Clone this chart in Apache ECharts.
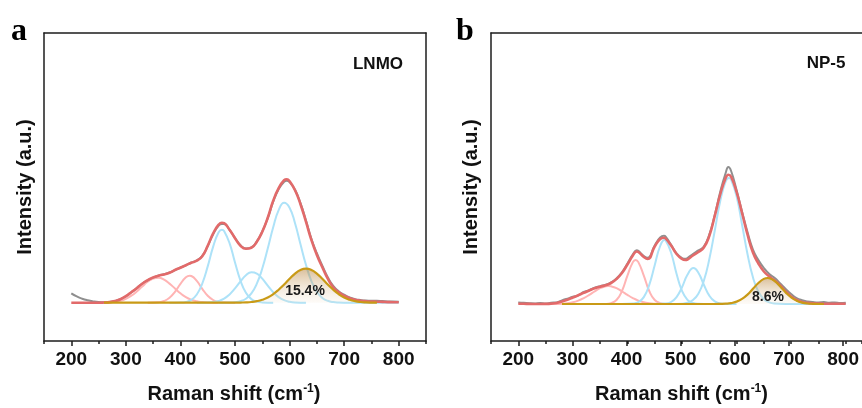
<!DOCTYPE html>
<html>
<head>
<meta charset="utf-8">
<script src="https://cdn.jsdelivr.net/npm/echarts@6/dist/echarts.min.js"></script>
<style>
html,body{margin:0;padding:0;background:#fff;}
#c{width:862px;height:408px;}
</style>
</head>
<body>
<div id="c"></div>
<script>
// ---------------- DATA (Raman shift cm^-1, intensity a.u.) ----------------
const sampleNames = ['LNMO', 'NP-5'];
const panelLetters = ['a', 'b'];
const peakShares = ['15.4%', '8.6%'];

// Panel a : LNMO
const lnmoRaw = [[200,9.4],[210,6.3],[220,4],[230,2.4],[240,1.3],[250,0.6],[260,0.4],[270,0.7],[280,1.8],[290,3.6],[300,6.4],[310,10.3],[320,14.6],[330,19.2],[340,22.3],[350,25],[360,27.2],[370,28.5],[380,30.2],[390,32.5],[400,35.2],[410,37.3],[420,40.2],[430,42.3],[440,46.8],[450,56.5],[460,68.5],[470,77],[476,78.8],[480,78.8],[490,72.8],[500,64.8],[510,57.5],[520,54.3],[530,55.3],[540,61.3],[550,71.3],[560,84.5],[570,101],[580,113.5],[590,121],[595,122],[600,120.5],[610,113],[620,99.5],[630,82.5],[640,64],[650,49.5],[660,37],[670,25.5],[680,16.8],[690,11.5],[700,8],[710,5.3],[720,3.6],[730,2.7],[740,2.1],[750,1.9],[760,2],[770,1.6],[780,1.3],[790,1.1],[800,0.9]];
const lnmoFit = [[200,0],[210,0],[220,0],[230,0],[240,0],[250,0],[260,0.2],[270,0.6],[280,1.7],[290,3.5],[300,6.5],[310,10.5],[320,14.5],[330,19],[340,22.5],[350,25.3],[360,27],[370,28.3],[380,30],[390,32.7],[400,35],[410,37.5],[420,40],[430,42],[440,46.5],[450,57],[460,69.4],[470,78],[476,80],[480,79.5],[490,73],[500,64.5],[510,57],[520,54],[530,55],[540,61],[550,71],[560,85],[570,102],[580,114.5],[590,122.5],[595,123.5],[600,121.5],[610,112.5],[620,98.5],[630,81],[640,62.7],[650,47.7],[660,35.5],[670,24],[680,15.5],[690,10.3],[700,7],[710,4.6],[720,3],[730,2],[740,1.5],[750,1.2],[760,1],[770,0.8],[780,0.6],[790,0.5],[800,0.5]];
const lnmoPink1 = [[250,0],[270,0.3],[280,0.9],[290,1.9],[300,3.9],[310,7],[320,11.2],[330,16.2],[340,20.9],[350,24.1],[360,25],[370,23.1],[380,19.1],[390,14.2],[400,9.4],[410,5.6],[420,3],[430,1.4],[440,0.6],[450,0.2],[470,0]];
const lnmoPink2 = [[340,0],[360,0.5],[370,1.7],[380,4.9],[390,10.9],[400,18.8],[410,25.4],[417,27],[420,26.7],[430,21.9],[440,13.9],[450,6.9],[460,2.7],[470,0.8],[480,0.2],[500,0]];
const lnmoBlue1 = [[380,0],[400,0.2],[410,0.8],[420,2.9],[430,8.2],[440,19.1],[450,36.3],[460,56.1],[470,70.4],[476,73],[480,71.8],[490,59.6],[500,40.2],[510,22.1],[520,9.9],[530,3.6],[540,1.1],[550,0.3],[570,0]];
const lnmoBlue2 = [[430,0],[450,0.2],[460,0.7],[470,1.8],[480,4.1],[490,8.3],[500,14.3],[510,21.3],[520,27.4],[530,30.4],[540,29.1],[550,24],[560,17.1],[570,10.5],[580,5.6],[590,2.5],[600,1],[610,0.3],[630,0]];
const lnmoBlue3 = [[470,0],[490,0.15],[500,0.5],[510,1.5],[520,4],[530,9.3],[540,19],[550,34.2],[560,54.2],[570,75.5],[580,92.6],[590,100],[600,95],[610,79.4],[620,58.5],[630,37.9],[640,21.6],[650,10.9],[660,4.8],[670,1.9],[680,0.6],[690,0.2],[710,0],[800,0]];
const lnmoGold = [[260,0],[500,0],[510,0.13],[520,0.3],[530,0.7],[540,1.5],[550,2.9],[560,5.1],[570,8.5],[580,13],[590,18.3],[600,24],[610,29.1],[620,32.7],[630,34],[640,32.7],[650,29.1],[660,24],[670,18.3],[680,13],[690,8.5],[700,5.1],[710,2.9],[720,1.5],[730,0.7],[740,0.3],[750,0.1],[760,0]];

// Panel b : NP-5
const np5Raw = [[200,1.5],[210,1.2],[220,0.8],[230,0.5],[240,1],[250,0.5],[260,1.3],[270,1.6],[280,3.6],[290,5.4],[300,7.2],[310,8.6],[320,12],[330,13.8],[340,16.2],[350,17.9],[360,19.2],[370,21.6],[380,25.6],[390,31.6],[400,40.4],[410,49.6],[417,53.8],[420,53.2],[430,48],[437,46.2],[450,58.5],[460,66.5],[467,68.2],[470,67.5],[480,59.2],[490,50.6],[500,46],[506,45.2],[510,46],[520,50],[530,53.6],[540,57.4],[550,69.5],[560,89],[570,112],[580,131],[585,137],[590,133],[600,114],[610,92.5],[620,72],[630,54.5],[640,44],[650,36],[660,30],[670,26],[680,20.5],[690,15],[700,10],[710,6],[720,3.8],[730,2.6],[740,1.9],[750,1.6],[760,1.9],[770,1.3],[780,1.5],[790,1],[800,1.2]];
const np5Fit = [[200,0.3],[210,0.2],[220,0.1],[230,0],[240,0],[250,0.1],[260,0.4],[270,1],[280,2.5],[290,4.3],[300,6.5],[310,8.8],[320,11.2],[330,13.5],[340,15.8],[350,17.3],[360,18.8],[370,21],[380,25],[390,31],[400,39.5],[410,48.5],[417,52.5],[420,52],[430,47],[437,45],[450,57.5],[460,65],[467,66.3],[470,65.5],[480,58.5],[490,50],[500,45],[506,44],[510,44.5],[520,48.5],[530,52],[540,56.5],[550,68],[560,88],[570,109.5],[580,126],[585,129.3],[590,127.3],[600,112],[610,91],[620,69.5],[630,51.5],[640,40.5],[650,32.5],[660,27.5],[670,23.5],[680,18.5],[690,12.5],[700,7.5],[710,4],[720,2],[730,1.1],[740,0.6],[750,0.4],[760,0.3],[770,0.3],[780,0.3],[790,0.3],[800,0.3]];
const np5Pink1 = [[250,0],[270,0.1],[280,0.3],[290,0.8],[300,1.7],[310,3.4],[320,5.9],[330,9.1],[340,12.7],[350,15.9],[360,17.7],[365,18],[370,17.7],[380,15.9],[390,12.7],[400,9.1],[410,5.9],[420,3.4],[430,1.7],[440,0.8],[450,0.3],[460,0.1],[480,0]];
const np5Pink2 = [[340,0],[360,0.1],[370,0.9],[380,4],[390,13],[400,28.4],[410,41.9],[415,44],[420,41.9],[430,28.4],[440,13],[450,4],[460,0.9],[470,0.1],[490,0]];
const np5Blue1 = [[390,0],[410,0.4],[420,1.8],[430,6.9],[440,19.1],[450,38.8],[460,58],[468,64],[470,63.6],[480,51.3],[490,30.3],[500,13.2],[510,4.2],[520,1],[530,0.2],[550,0]];
const np5Blue2 = [[450,0],[470,0.4],[480,2],[490,6.9],[500,16.8],[510,29.2],[521,36],[530,31.3],[540,19.3],[550,8.4],[560,2.6],[570,0.6],[580,0.1],[600,0]];
const np5Blue3 = [[480,0],[500,0.3],[510,1.2],[520,3.9],[530,10.3],[540,23.2],[550,44.7],[560,73.3],[570,102.7],[580,122.5],[586,126],[590,124.4],[600,107.7],[610,79.5],[620,50],[630,26.7],[640,12.2],[650,4.8],[660,1.6],[670,0.4],[690,0],[800,0]];
const np5Gold = [[280,0],[560,0],[570,0.1],[580,0.3],[590,0.9],[600,2.4],[610,5.1],[620,9.4],[630,15.2],[640,21],[650,25.1],[657,26],[660,25.8],[670,22.9],[680,17.6],[690,11.6],[700,6.6],[710,3.3],[720,1.4],[730,0.5],[740,0.2],[760,0]];

// ---------------- STYLE ----------------
const SANS = 'Liberation Sans, Arial, sans-serif';
const C = {
  raw: '#8f8f8f', fit: '#e26a6a', pink: '#ffb4b4', blue: '#ade2f8', gold: '#c99a16', axis: '#1c1c1c'
};
const TOP = 33, H = 308, W = 382, XMIN = 150, XMAX = 850;
const pxPerUnit = W / (XMAX - XMIN);
const CHART_W = 862;
const panels = [
  {left: 44, yMin: -38.3, yMax: 269.7,
   comps: [lnmoPink1, lnmoPink2], blues: [lnmoBlue1, lnmoBlue2, lnmoBlue3], raw: lnmoRaw, fit: lnmoFit, gold: lnmoGold},
  {left: 491, yMin: -37, yMax: 271,
   comps: [np5Pink1, np5Pink2], blues: [np5Blue1, np5Blue2, np5Blue3], raw: np5Raw, fit: np5Fit, gold: np5Gold}
];
panels.forEach(p => {
  // the second panel's frame runs past the right edge of the picture: clip it at the edge
  p.width = Math.min(W, CHART_W - p.left);
  p.xMax = XMIN + p.width / pxPerUnit;
  p.fullFrame = p.width === W;
});

const axisLineStyle = {color: C.axis, width: 1.5};
const grid = [], xAxis = [], yAxis = [], series = [];
panels.forEach((p, i) => {
  grid.push({left: p.left, top: TOP, width: p.width, height: H, show: false});
  xAxis.push({gridIndex: i, type: 'value', min: XMIN, max: p.xMax, interval: 50, position: 'bottom',
    axisLine: {show: true, onZero: false, lineStyle: axisLineStyle},
    axisTick: {show: true, inside: false, length: 3, lineStyle: axisLineStyle},
    axisLabel: {show: false}, splitLine: {show: false}});
  yAxis.push({gridIndex: i, type: 'value', min: p.yMin, max: p.yMax, position: 'left',
    axisLine: {show: true, onZero: false, lineStyle: axisLineStyle}, axisTick: {show: false}, axisLabel: {show: false}, splitLine: {show: false}});
});
// frame lines: top (both panels) and right (only when inside the picture)
panels.forEach((p, i) => {
  xAxis.push({gridIndex: i, type: 'value', min: XMIN, max: p.xMax, position: 'top',
    axisLine: {show: true, onZero: false, lineStyle: axisLineStyle}, axisTick: {show: false}, axisLabel: {show: false}, splitLine: {show: false}});
  if (p.fullFrame) {
    yAxis.push({gridIndex: i, type: 'value', min: p.yMin, max: p.yMax, position: 'right',
      axisLine: {show: true, onZero: false, lineStyle: axisLineStyle}, axisTick: {show: false}, axisLabel: {show: false}, splitLine: {show: false}});
  }
});
// helper grids for the major ticks + labels (200..800)
panels.forEach((p, i) => {
  const gi = grid.length;
  grid.push({left: p.left + (200 - XMIN) * pxPerUnit, top: TOP, width: 600 * pxPerUnit, height: H, show: false});
  xAxis.push({gridIndex: gi, type: 'value', min: 200, max: 800, interval: 100,
    axisLine: {show: false, onZero: false},
    axisTick: {show: true, inside: false, length: 5, lineStyle: axisLineStyle},
    axisLabel: {show: true, margin: 9, color: '#111', fontFamily: SANS, fontWeight: 'bold', fontSize: 19},
    splitLine: {show: false}});
  yAxis.push({gridIndex: gi, type: 'value', show: false, min: 0, max: 1});
});

function line(i, data, color, width, z, extra) {
  return Object.assign({type: 'line', xAxisIndex: i, yAxisIndex: i, data: data, smooth: 0.5,
    symbol: 'none', z: z, silent: true, animation: false,
    lineStyle: {color: color, width: width}}, extra || {});
}
panels.forEach((p, i) => {
  p.comps.forEach(d => series.push(line(i, d, C.pink, 2, 2)));
  p.blues.forEach(d => series.push(line(i, d, C.blue, 2, 2)));
  series.push(line(i, p.raw, C.raw, 2, 3));
  series.push(line(i, p.fit, C.fit, 2.6, 4));
  series.push(line(i, p.gold, C.gold, 2.2, 5, {
    areaStyle: {origin: 0, color: {type: 'linear', x: 0, y: 0, x2: 0, y2: 1,
      colorStops: [{offset: 0, color: 'rgba(180,128,55,0.72)'}, {offset: 1, color: 'rgba(245,230,210,0.25)'}]}}
  }));
});

// text annotations
function txt(t, x, y, font, fill) {
  return {type: 'text', z: 100, silent: true,
    style: {text: t, x: x, y: y, font: font, fill: fill || '#111',
      textAlign: 'center', align: 'center', textVerticalAlign: 'middle', verticalAlign: 'middle'}};
}
const graphic = [];
const letterX = [19, 465];
const nameX = [378, 826], nameY = [64, 63];
const shareX = [305, 768], shareY = [291.5, 297.2];
const yTitleX = [25, 471.5];
const xTitleX = [234, 681.5];
panels.forEach((p, i) => {
  graphic.push(txt(panelLetters[i], letterX[i], 31.8, 'bold 32px "Liberation Serif", "Times New Roman", serif', '#000'));
  graphic.push(txt(sampleNames[i], nameX[i], nameY[i], 'bold 17px ' + SANS));
  graphic.push(txt(peakShares[i], shareX[i], shareY[i], 'bold 14px ' + SANS, '#1a1a1a'));
  graphic.push({type: 'text', z: 100, silent: true, rotation: Math.PI / 2, x: yTitleX[i], y: 187,
    style: {text: 'Intensity (a.u.)', x: 0, y: 0, font: 'bold 20px ' + SANS, fill: '#111',
      textAlign: 'center', align: 'center', textVerticalAlign: 'middle', verticalAlign: 'middle'}});
  graphic.push({type: 'text', z: 100, silent: true, x: xTitleX[i], y: 394,
    style: {text: '{m|Raman shift (cm}{s|-1}{m|)}', x: 0, y: 0, fill: '#111',
      textAlign: 'center', align: 'center', textVerticalAlign: 'middle', verticalAlign: 'middle',
      rich: {
        m: {fontFamily: SANS, fontWeight: 'bold', fontSize: 20, lineHeight: 22, fill: '#111', color: '#111'},
        s: {fontFamily: SANS, fontWeight: 'bold', fontSize: 12, lineHeight: 12, verticalAlign: 'top', fill: '#111', color: '#111'}
      }}});
});

const chart = echarts.init(document.getElementById('c'), null, {renderer: 'canvas'});
chart.setOption({
  animation: false,
  backgroundColor: '#ffffff',
  grid: grid, xAxis: xAxis, yAxis: yAxis, series: series, graphic: graphic
});
</script>
</body>
</html>
